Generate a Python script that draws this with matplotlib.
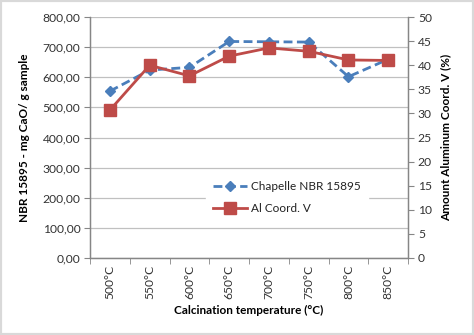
import matplotlib
matplotlib.use("Agg")
import matplotlib.pyplot as plt
from matplotlib.ticker import FuncFormatter, FixedLocator, MultipleLocator
from matplotlib.patches import Rectangle

plt.rcParams['font.family'] = ['Lato', 'DejaVu Sans']

temperatures = ["500°C", "550°C", "600°C", "650°C", "700°C", "750°C", "800°C", "850°C"]
chapelle = [554, 624, 633, 719, 718, 717, 602, 660]
al_coord_v = [30.7, 40.0, 37.8, 41.9, 43.6, 42.9, 41.1, 41.0]

blue = "#4a7ebb"
red = "#be4b48"
axis_gray = "#868686"
grid_gray = "#c0c0c0"

fig = plt.figure(figsize=(4.74, 3.35), dpi=100)
fig.patches.append(Rectangle((0, 0), 1, 1, transform=fig.transFigure,
                             fill=False, edgecolor="#d9d9d9", linewidth=3))

ax = fig.add_axes([0.19, 0.230, 0.671, 0.719])
ax2 = ax.twinx()

x = list(range(len(temperatures)))
ax.plot(x, chapelle, color=blue, linestyle=(0, (3.2, 1.6)), linewidth=2.0,
        marker="D", markersize=5, markerfacecolor=blue, markeredgecolor=blue,
        label="Chapelle NBR 15895", zorder=3)
ax2.plot(x, al_coord_v, color=red, linewidth=2.0, marker="s", markersize=8,
         markerfacecolor=red, markeredgecolor=red, label="Al Coord. V", zorder=3)

ax.set_xlim(-0.5, len(temperatures) - 0.5)
ax.set_ylim(0, 800)
ax2.set_ylim(0, 50)

ax.yaxis.set_major_locator(MultipleLocator(100))
ax.yaxis.set_major_formatter(FuncFormatter(lambda v, p: f"{v:.2f}".replace(".", ",")))
ax2.yaxis.set_major_locator(MultipleLocator(5))

ax.set_xticks(x)
ax.set_xticklabels(temperatures, rotation=90)
ax.xaxis.set_minor_locator(FixedLocator([i - 0.5 for i in range(len(temperatures) + 1)]))
ax.tick_params(axis="x", which="major", length=0, pad=5)
ax.tick_params(axis="x", which="minor", length=4, color=axis_gray)

ax.tick_params(axis="y", length=4, color=axis_gray, labelsize=8.7, pad=3)
ax.tick_params(axis="x", labelsize=8.7)
ax2.tick_params(axis="y", length=4, color=axis_gray, labelsize=8.7, pad=3)

ax.grid(axis="y", color=grid_gray, linewidth=0.9)
ax.set_axisbelow(True)

for a in (ax, ax2):
    a.spines["top"].set_visible(False)
    for s in ("left", "bottom", "right"):
        a.spines[s].set_color(axis_gray)
        a.spines[s].set_linewidth(0.9)
    for lbl in a.get_yticklabels() + a.get_xticklabels():
        lbl.set_color("#333333")

ax.set_ylabel("NBR 15895 - mg CaO/ g sample", fontsize=8.5, fontweight="bold", labelpad=9)
ax2.set_ylabel("Amount Aluminum Coord. V (%)", fontsize=8.5, fontweight="bold", labelpad=6)
ax.set_xlabel("Calcination temperature (°C)", fontsize=8.5, fontweight="bold", labelpad=4)

h1, l1 = ax.get_legend_handles_labels()
h2, l2 = ax2.get_legend_handles_labels()
leg = ax2.legend(h1 + h2, l1 + l2, loc="center", bbox_to_anchor=(0.62, 0.25),
                 frameon=True, fancybox=False, facecolor="white", edgecolor="white",
                 framealpha=1, fontsize=8.5, handlelength=2.8, handletextpad=0.4,
                 labelspacing=0.9, borderpad=0.6)
for t in leg.get_texts():
    t.set_color("#222222")

fig.savefig("out.png", dpi=100, facecolor="white")
